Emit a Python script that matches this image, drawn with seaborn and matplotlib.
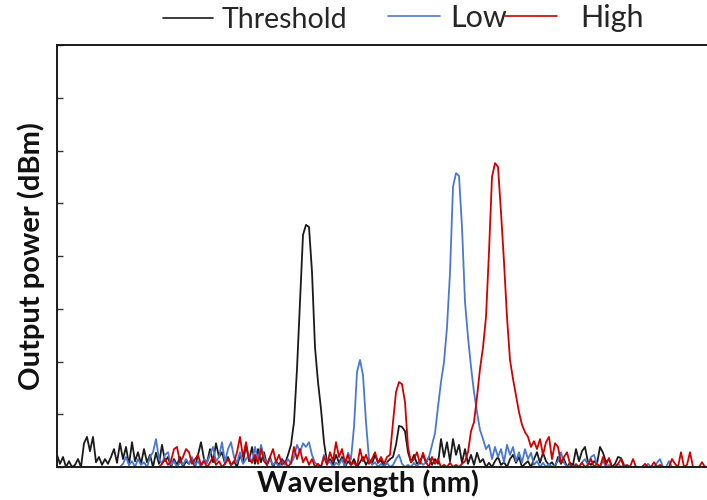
import numpy as np
import pandas as pd
import matplotlib
matplotlib.use("Agg")
import matplotlib.pyplot as plt
from matplotlib.lines import Line2D
import seaborn as sns

# ---------------- data ----------------
WL_START = 1530.0   # nm, first sample of the wavelength grid
WL_STEP = 0.15      # nm, spectrometer sampling step

series_names = ["Threshold", "Low", "High"]
series_colors = ["#1a1a1a", "#4a78d0", "#d00000"]

threshold_start = 0
threshold_dbm = [
    -77.7, -79.4, -78.1, -80, -78.9, -80, -79.6, -78.5, -80, -75.5,
    -74.3, -77.0, -74.3, -79.1, -78.1, -79.6, -78.5, -79.4, -78.1, -76.6,
    -79.2, -75.5, -78.5, -76.2, -79.6, -75.3, -78.9, -77.2, -79.4, -76.6,
    -79.1, -77.7, -80, -77.3, -79.4, -75.8, -78.9, -78.1, -80, -78.5,
    -79.6, -78.1, -80, -78.9, -79.4, -78.5, -80, -77.7, -75.3, -78.5,
    -79.2, -76.6, -79.1, -75.5, -78.1, -77.2, -79.4, -78.1, -79.6, -78.9,
    -80, -77.7, -79.2, -75.8, -78.9, -76.2, -79.4, -76.6, -79.1, -77.2,
    -79.6, -78.1, -80, -78.9, -79.6, -78.5, -79.4, -77.7,
    -75.8, -71.5, -61.4, -48.7, -36.0, -34.1, -34.5, -43.0, -57.3, -63.9, -69.0, -75.3, -79.1,
    -78.5, -79.6, -77.7, -79.2, -78.1, -80, -78.9, -79.6, -78.5,
    -80, -79.1, -78.1, -79.6, -78.5, -79.4, -77.7, -79.2, -78.7, -80, -79.1, -78.5,
    -78.1, -75.8, -72.2, -72.4, -73.2, -77.2, -79.1,
    -77.7, -79.4, -78.9, -77.7, -79.2, -78.1, -79.6, -78.5, -79.4,
    -74.7, -78.1, -75.3, -78.9, -74.7, -77.7, -75.8, -79.2, -76.6, -79.4,
    -77.7, -79.6, -77.3, -79.1, -78.5, -80, -79.2, -80, -78.9, -78.1,
    -79.6, -79.1, -80, -78.5, -77.7, -79.2, -78.1, -80, -79.4, -78.9,
    -80, -78.5, -77.2, -79.2, -77.3, -78.9, -79.6, -79.1, -80, -78.1,
    -79.4, -78.5, -80, -79.2, -79.6, -76.6, -78.9, -77.0, -76.2, -79.1,
    -79.6, -78.9, -79.4, -76.2, -77.3, -79.1, -78.5, -80, -79.4, -78.1, -78.3, -79.6, -80,
]

low_start = 21
low_dbm = [
    -80, -79.4, -78.1, -79.6, -78.9, -80, -78.5, -79.6, -79.1, -80,
    -78.1, -77.2, -74.7, -78.5, -79.4, -77.7, -77.2, -79.6, -78.9, -80,
    -79.1, -79.6, -78.5, -79.4, -78.1, -79.6, -78.9, -80, -78.5, -79.2,
    -77.7, -76.2, -78.9, -78.1, -75.3, -79.1, -76.6, -75.3, -78.1, -79.2,
    -77.2, -79.4, -78.5, -77.7, -79.2, -76.2, -78.9, -75.8, -78.1, -79.4,
    -78.5, -79.6, -79.1, -80, -78.9, -79.6, -78.5, -79.4, -78.1, -75.8,
    -77.2, -75.5, -76.2, -75.3, -77.7, -79.2, -79.6, -80, -77.7, -79.4,
    -78.9, -80, -79.2, -79.6, -78.5, -80, -77.3,
    -78.5, -72.4, -62.0, -59.7, -62.6, -71.5, -78.5,
    -79.6, -79.1, -80, -79.4, -80, -79.2, -80, -79.6, -78.5, -77.7,
    -79.4, -80, -79.6, -80, -79.2, -80, -78.9, -79.6, -79.1,
    -78.1, -75.8, -73.6, -68.6, -63.9, -60.1, -53.5, -43.2, -26.9, -24.3,
    -24.8, -34.5, -48.7, -55.4, -61.0, -65.8, -69.6, -73.0, -74.7, -76.6,
    -75.8, -78.5, -76.2, -78.1, -76.6, -79.1, -75.8, -77.7, -76.2, -78.9,
    -77.2, -79.2, -76.6, -78.5, -77.3, -79.6, -78.9, -80, -79.2, -80,
    -79.4, -80, -79.6, -78.9, -77.2, -79.2, -80, -79.6, -80, -79.4,
    -80, -79.1, -78.5, -79.6, -78.1, -77.7, -79.4, -80, -78.9, -80,
    -79.6, -80, -80, -79.4, -80, -79.6, -80, -80, -80, -80,
    -80, -80, -80, -79.4, -80, -80, -79.2, -78.5, -80, -80, -78.9, -80,
]

high_start = 34
high_dbm = [
    -80, -79.4, -78.5, -79.6, -78.9, -76.6, -76.2, -79.1, -78.1, -76.6,
    -77.2, -79.4, -78.5, -77.7, -79.6, -78.9, -80, -79.2, -78.1, -79.6,
    -78.9, -80, -79.4, -78.5, -79.6, -79.1, -77.2, -74.3, -78.1, -75.3,
    -78.5, -79.2, -77.7, -79.4, -76.6, -78.9, -79.6, -78.1, -76.6, -79.1,
    -77.7, -79.6, -78.9, -80, -79.2, -76.2, -78.5, -76.6, -79.1, -78.1,
    -79.6, -78.5, -80, -79.4, -80, -78.1, -79.6, -77.2, -78.9, -75.3,
    -78.1, -76.6, -79.2, -77.7, -79.6, -79.1, -80, -76.6, -78.9, -77.7,
    -79.4, -78.5, -77.2, -79.2, -78.1, -79.4,
    -78.1, -77.7, -71.5, -65.8, -63.9, -64.3, -67.7, -76.2, -79.1,
    -78.5, -77.2, -79.4, -77.3, -79.1, -80, -78.1, -79.4, -78.5, -80,
    -79.6, -80, -79.2, -80, -79.6, -80, -79.4, -78.9,
    -77.2, -73.2, -71.5, -66.7, -61.4, -57.3, -51.6, -39.2, -25.0, -22.4, -23.1,
    -31.7, -41.1, -51.6, -59.7, -63.3, -66.4, -69.6, -72.0, -73.4, -74.3, -76.2,
    -75.1, -76.6, -74.7, -77.7, -75.3, -74.3, -78.5, -75.5, -76.2, -79.2,
    -78.1, -77.2, -79.4, -80, -79.6, -80, -79.2, -80, -79.6, -78.5,
    -80, -79.4, -80, -78.1, -79.6, -78.3, -80, -80, -79.4, -78.5,
    -80, -79.6, -80, -78.5, -80, -80, -80, -79.4, -80, -80,
    -79.1, -80, -79.6, -80, -80, -80, -78.5, -79.4, -80, -77.2,
    -80, -79.6, -77.2, -80, -80, -80, -79.1, -80,
]

# ---------------- build long-form table ----------------
frames = []
for name, start, vals in [("Threshold", threshold_start, threshold_dbm),
                          ("Low", low_start, low_dbm),
                          ("High", high_start, high_dbm)]:
    idx = np.arange(start, start + len(vals))
    frames.append(pd.DataFrame({"wl": WL_START + WL_STEP * idx,
                                "power": vals, "series": name}))
df = pd.concat(frames, ignore_index=True)

# ---------------- figure ----------------
sns.set_style("white")
plt.rcParams["font.family"] = ["Lato", "DejaVu Sans"]

fig = plt.figure(figsize=(7.07, 5.0), dpi=100)
ax = fig.add_axes([57 / 707, 33 / 500, 652 / 707, 422 / 500])

palette = dict(zip(series_names, series_colors))
sns.lineplot(data=df, x="wl", y="power", hue="series", hue_order=series_names,
             palette=palette, estimator=None, sort=False, linewidth=1.3,
             legend=False, ax=ax)

ax.set_xlim(WL_START, WL_START + 0.05 * 652)
ax.set_ylim(-80, 0)
ax.set_yticks(np.arange(-80, 1, 10))
ax.set_yticklabels([])
ax.set_xticks([])
ax.tick_params(axis="y", direction="in", length=4, width=1.0, color="#333333", left=True)
for s in ["left", "top", "bottom"]:
    ax.spines[s].set_visible(True)
    ax.spines[s].set_linewidth(1.4)
    ax.spines[s].set_color("#1a1a1a")
ax.spines["right"].set_visible(False)

ax.set_xlabel("Wavelength (nm)", fontsize=21, fontweight="bold", color="#111111")
ax.set_ylabel("Output power (dBm)", fontsize=21, fontweight="bold", color="#111111")
ax.xaxis.set_label_coords((368 - 57) / 652, -0.006)
ax.xaxis.label.set_va("top")
ax.yaxis.set_label_coords(-(57 - 31) / 652, 0.5)
ax.yaxis.label.set_va("center")

# legend: three separate entries with different text sizes
legend_specs = [
    ("Threshold", series_colors[0], 20.5, 163, 1.75, 0.32, 20),
    ("Low", series_colors[1], 22, 388, 1.7, 0.33, 18),
    ("High", series_colors[2], 22, 505, 1.7, 0.75, 18),
]
for name, col, fs, xpx, hl, pad, ypx in legend_specs:
    h = Line2D([], [], color=col, linewidth=1.2)
    fig.legend(handles=[h], labels=[name], loc="center left",
               bbox_to_anchor=(xpx / 707, 1 - ypx / 500), frameon=False,
               fontsize=fs, handlelength=hl, handletextpad=pad,
               borderpad=0, borderaxespad=0)

fig.savefig("out.png", dpi=100)
